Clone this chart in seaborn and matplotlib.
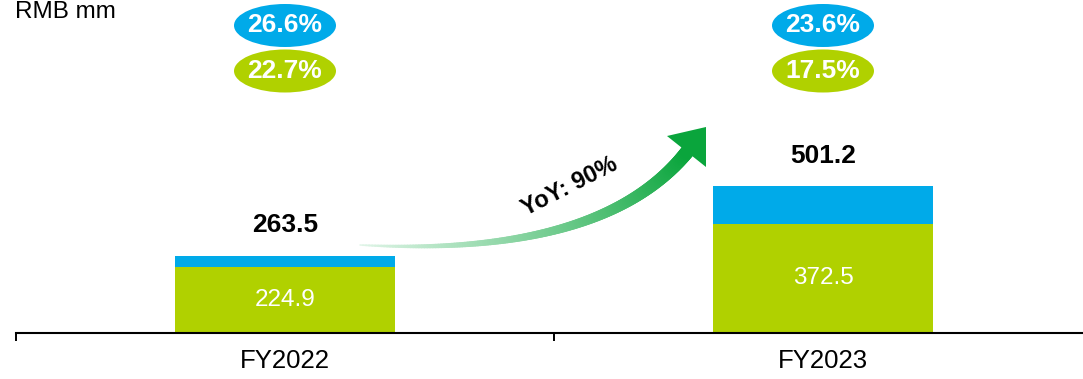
import numpy as np
import pandas as pd
import matplotlib
matplotlib.use("Agg")
import matplotlib.pyplot as plt
from matplotlib.patches import Ellipse, Polygon
from matplotlib.collections import LineCollection
import matplotlib.transforms as mtransforms
import seaborn as sns

# ---- data ----
categories = ["FY2022", "FY2023"]
totals = [263.5, 501.2]
green_values = [224.9, 372.5]
blue_pct = ["26.6%", "23.6%"]
green_pct = ["22.7%", "17.5%"]
unit_label = "RMB mm"
yoy_label = "YoY: 90%"

BLUE = "#00AAE9"
GREEN = "#B0D100"
ARROW = "#0AA53C"

sns.set_style("white")
plt.rcParams["font.family"] = ["Liberation Sans", "DejaVu Sans"]

W, H = 1083, 379
fig = plt.figure(figsize=(W / 100, H / 100), dpi=100)
ax = fig.add_axes([16 / W, 46.3 / H, 1076 / W, 332.7 / H])

df = pd.DataFrame({"category": categories, "total": totals, "green": green_values})
bw = 0.4076
sns.barplot(data=df, x="category", y="total", color=BLUE, width=bw, saturation=1,
            ax=ax, linewidth=0, zorder=1)
sns.barplot(data=df, x="category", y="green", color=GREEN, width=bw, saturation=1,
            ax=ax, linewidth=0, zorder=1)

ax.set_xlim(-0.5, 1.5)
ax.set_ylim(0, 1139)
ax.set_xlabel("")
ax.set_ylabel("")
ax.set_yticks([])
for s in ["left", "right", "top"]:
    ax.spines[s].set_visible(False)
ax.spines["bottom"].set_linewidth(1.5)
ax.spines["bottom"].set_color("black")
ax.spines["bottom"].set_zorder(3)
ax.set_xticks(range(len(categories)))
ax.set_xticklabels(categories, fontsize=18.5, color="black")
ax.set_xticks([-0.5, 0.5, 1.5], minor=True)
ax.tick_params(axis="x", which="major", length=0, pad=12, labelcolor="black")
ax.tick_params(axis="x", which="minor", bottom=True, length=6, width=1.4,
               direction="out", color="black")

# value labels
for i, (t, g) in enumerate(zip(totals, green_values)):
    ax.annotate(f"{t:.1f}", xy=(i, t), xytext=(0, 22), textcoords="offset points",
                ha="center", va="center", fontsize=19, fontweight="bold", color="black")
    ax.text(i, g / 2, f"{g:.1f}", ha="center", va="center", fontsize=17.5, color="white")

# percentage ellipses
blend = mtransforms.blended_transform_factory(ax.transData, ax.transAxes)
for i in range(len(categories)):
    for yc, col, txt in [(1 - 25.5 / 332.7, BLUE, blue_pct[i]), (1 - 71 / 332.7, GREEN, green_pct[i])]:
        e = Ellipse((i, yc), width=102 / 538, height=43 / 332.7, transform=blend,
                    facecolor=col, edgecolor="none", clip_on=False, zorder=4)
        ax.add_patch(e)
        ax.text(i, yc, txt, transform=blend, ha="center", va="center", fontsize=19,
                fontweight="bold", color="white", zorder=5)

# overlay for decorations (pixel coordinates)
ov = fig.add_axes([0, 0, 1, 1], facecolor="none")
ov.set_xlim(0, W)
ov.set_ylim(H, 0)
ov.axis("off")

ov.text(15, 18, unit_label, ha="left", va="baseline", fontsize=17.5, color="black")

# gradient curved arrow
P0 = np.array([360, 245.0])
P1 = np.array([604, 258.0])
P2 = np.array([688.5, 150.0])
t = np.linspace(0, 1, 160)[:, None]
pts = (1 - t) ** 2 * P0 + 2 * (1 - t) * t * P1 + t ** 2 * P2
segs = np.stack([pts[:-1], pts[1:]], axis=1)
tt = np.linspace(0, 1, len(segs))
lw_px = 1.5 + 12.5 * tt ** 0.8
base = np.array(matplotlib.colors.to_rgb(ARROW))
light = np.array([0.88, 0.96, 0.91])
cols = np.zeros((len(segs), 4))
mix = tt[:, None] ** 0.9
cols[:, :3] = light * (1 - mix) + base * mix
cols[:, 3] = 1.0
lc = LineCollection(segs, linewidths=lw_px * 0.72, colors=cols, capstyle="round",
                    antialiaseds=True)
ov.add_collection(lc)
ov.add_patch(Polygon([(667, 136), (706, 127), (706, 167)], closed=True,
                     facecolor=ARROW, edgecolor="none"))

ov.text(570, 187, yoy_label, ha="center", va="center", rotation=27, rotation_mode="anchor",
        fontsize=17, fontweight="bold", color="black")

fig.savefig("out.png", dpi=100)
